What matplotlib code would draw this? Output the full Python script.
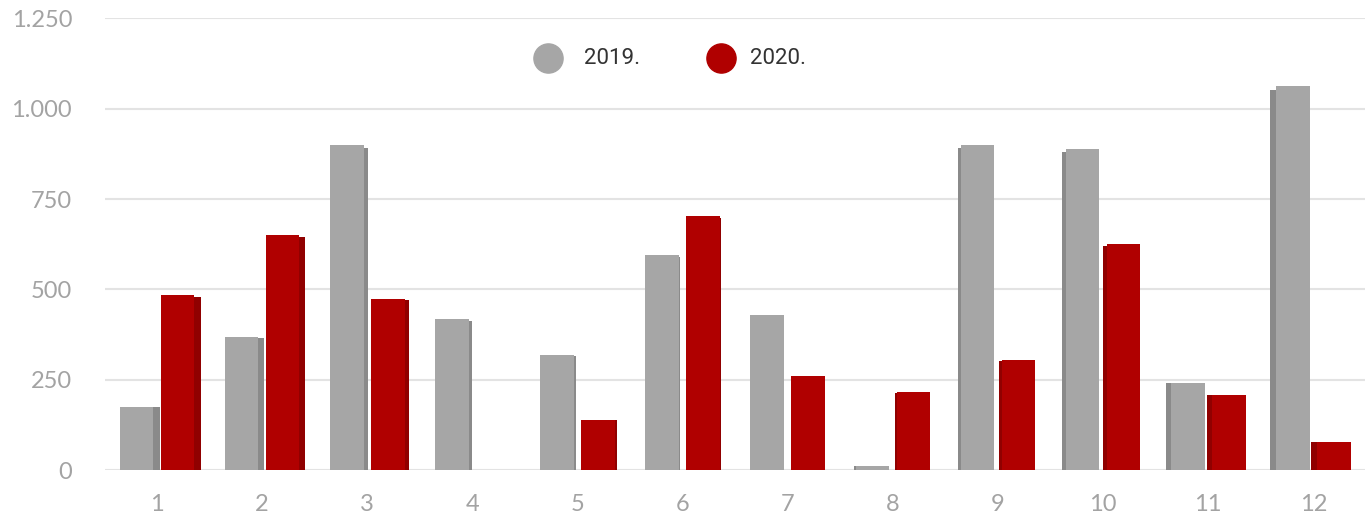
import numpy as np
import matplotlib.pyplot as plt
from matplotlib.lines import Line2D
from matplotlib.ticker import FuncFormatter

months = ["1", "2", "3", "4", "5", "6", "7", "8", "9", "10", "11", "12"]
v2019 = [175, 369, 900, 418, 319, 596, 430, 11, 900, 890, 242, 1063]
v2020 = [485, 651, 474, 0, 139, 704, 260, 216, 305, 626, 209, 77]
y_ticks = [0, 250, 500, 750, 1000, 1250]

gray, gray_side = "#a6a6a6", "#8a8a8a"
red, red_side = "#b00000", "#900000"

fig = plt.figure(figsize=(13.69, 5.19), dpi=100)
ax = fig.add_axes([0.077, 0.0944, 0.92, 0.87])

x = np.arange(len(months))
w = 0.32
gap = 0.07
for i in x:
    # fake perspective: side face grows away from the centre
    s = 1 if i < 6 else -1
    side = 0.011 * abs(i - 5.5)
    for val, off, c, cs in [(v2019[i], -(w + gap) / 2, gray, gray_side),
                            (v2020[i], (w + gap) / 2, red, red_side)]:
        if val <= 0:
            continue
        ax.bar(i + off, val, width=w, color=c, zorder=3)
        ax.bar(i + off + s * (w / 2 + side / 2), val * 0.99, width=side,
               color=cs, zorder=2)

ax.set_xlim(-0.491, 11.49)
ax.set_ylim(0, 1250)
ax.set_yticks(y_ticks)
ax.yaxis.set_major_formatter(FuncFormatter(lambda v, p: f"{int(v):,}".replace(",", ".")))
ax.set_xticks(x)
ax.set_xticklabels(months)
ax.grid(axis="y", color="#e3e3e3", linewidth=1.5, zorder=0)
for sp in ax.spines.values():
    sp.set_visible(False)
ax.tick_params(length=0, labelsize=17, labelcolor="#a3a3a3")
ax.tick_params(axis="y", pad=24)
ax.tick_params(axis="x", pad=17)
for t in ax.get_xticklabels() + ax.get_yticklabels():
    t.set_family("Lato")

# legend
ly = 1 - 58 / 519
for cx, col, tx, lab in [(548, gray, 584, "2019."), (721, red, 750, "2020.")]:
    fig.add_artist(Line2D([cx / 1369], [ly], marker="o", markersize=21,
                          color=col, linestyle="none", transform=fig.transFigure))
    fig.text(tx / 1369, ly, lab, fontsize=16, color="#333333",
             family="Roboto", va="center")

fig.savefig("out.png", dpi=100)
